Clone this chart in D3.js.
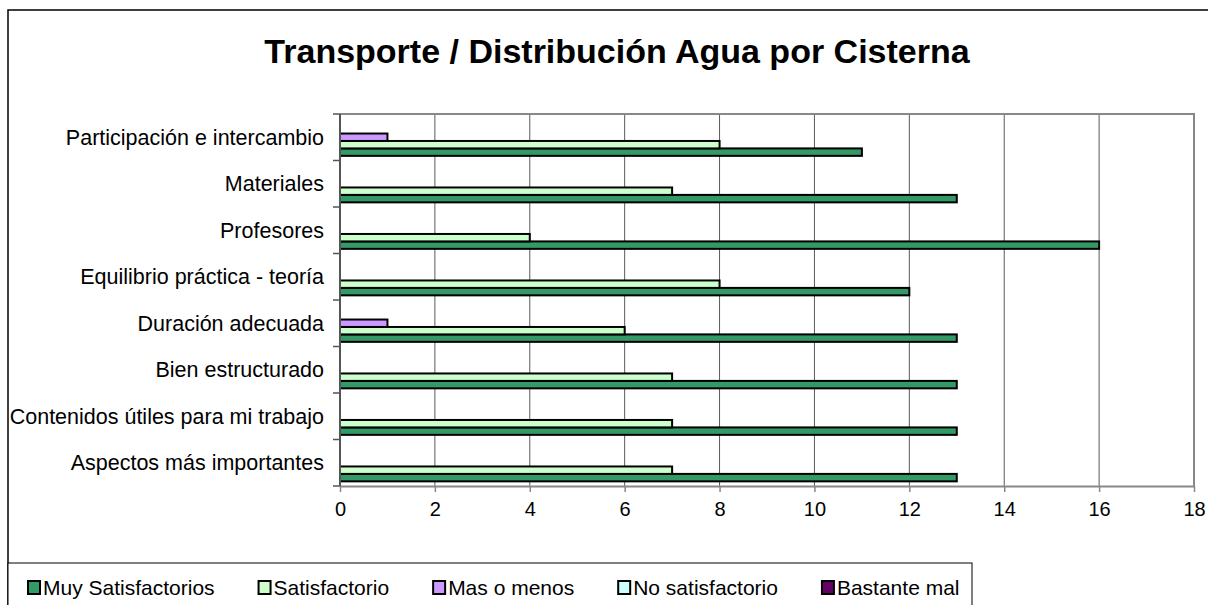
<!DOCTYPE html>
<html>
<head>
<meta charset="utf-8">
<script src="https://cdn.jsdelivr.net/npm/d3@7"></script>
<style>
  body { margin: 0; background: #fff; }
  svg text { font-family: "Liberation Sans", Arial, sans-serif; fill: #000; }
</style>
</head>
<body>
<div id="chart"></div>
<script>
// categories, top to bottom as drawn
var categories = [
    "Participación e intercambio",
    "Materiales",
    "Profesores",
    "Equilibrio práctica - teoría",
    "Duración adecuada",
    "Bien estructurado",
    "Contenidos útiles para mi trabajo",
    "Aspectos más importantes"
];

var seriesNames = ["Muy Satisfactorios", "Satisfactorio", "Mas o menos", "No satisfactorio", "Bastante mal"];
var seriesColors = ["#339966", "#ccffcc", "#cc99ff", "#ccffff", "#660066"];

var muySatisfactorios = [11, 13, 16, 12, 13, 13, 13, 13];
var satisfactorio     = [8, 7, 4, 8, 6, 7, 7, 7];
var masOMenos         = [1, 0, 0, 0, 1, 0, 0, 0];
var noSatisfactorio   = [0, 0, 0, 0, 0, 0, 0, 0];
var bastanteMal       = [0, 0, 0, 0, 0, 0, 0, 0];

var xTicks = [0, 2, 4, 6, 8, 10, 12, 14, 16, 18];

var seriesValues = [muySatisfactorios, satisfactorio, masOMenos, noSatisfactorio, bastanteMal];

var width = 1208, height = 605;
var margin = {top: 114, right: 14, bottom: 119, left: 340};

var svg = d3.select("#chart").append("svg")
    .attr("width", width)
    .attr("height", height);

// outer frame
svg.append("rect")
    .attr("x", 8).attr("y", 10)
    .attr("width", 1220).attr("height", 620)
    .attr("fill", "none").attr("stroke", "#000").attr("stroke-width", 1.5);

svg.append("text")
    .attr("x", 617).attr("y", 63)
    .attr("text-anchor", "middle")
    .style("font-size", "34px").style("font-weight", "bold")
    .text("Transporte / Distribución Agua por Cisterna");

var x = d3.scaleLinear().domain([0, 18]).range([margin.left, width - margin.right]);
var y0 = d3.scaleBand().domain(categories).range([margin.top, height - margin.bottom]);
// series stacked inside each band, first series at the bottom
var y1 = d3.scaleBand().domain(seriesNames.slice().reverse())
    .range([y0.bandwidth() * 0.1, y0.bandwidth() * 0.9]);

// gridlines
svg.append("g").selectAll("line")
    .data(xTicks.slice(1, -1))
    .enter().append("line")
    .attr("x1", function(d) { return x(d); }).attr("x2", function(d) { return x(d); })
    .attr("y1", margin.top).attr("y2", height - margin.bottom)
    .attr("stroke", "#5a5a5a").attr("stroke-width", 1);

// plot border top/right
svg.append("path")
    .attr("d", "M" + x(0) + "," + margin.top + "H" + x(18) + "V" + (height - margin.bottom))
    .attr("fill", "none").attr("stroke", "#888").attr("stroke-width", 2);

// bars
var rows = [];
categories.forEach(function(c, i) {
    seriesNames.forEach(function(s, j) {
        if (seriesValues[j][i] > 0) rows.push({cat: c, series: s, idx: j, value: seriesValues[j][i]});
    });
});

svg.append("g").selectAll("rect")
    .data(rows)
    .enter().append("rect")
    .attr("x", x(0))
    .attr("y", function(d) { return y0(d.cat) + y1(d.series); })
    .attr("width", function(d) { return x(d.value) - x(0); })
    .attr("height", y1.bandwidth())
    .attr("fill", function(d) { return seriesColors[d.idx]; })
    .attr("stroke", "#000").attr("stroke-width", 2);

// x axis
var xAxis = svg.append("g")
    .attr("transform", "translate(0," + (height - margin.bottom) + ")")
    .call(d3.axisBottom(x).tickValues(xTicks).tickSizeInner(6).tickSizeOuter(0).tickPadding(10));
xAxis.select(".domain").attr("stroke", "#888").attr("stroke-width", 2);
xAxis.selectAll(".tick line").attr("stroke", "#888").attr("stroke-width", 1.5);
xAxis.selectAll("text").style("font-size", "20px").attr("font-family", null);

// y axis: ticks at category boundaries
var bounds = categories.map(function(c) { return y0(c); }).concat([height - margin.bottom]);
var yAxis = svg.append("g");
yAxis.append("line")
    .attr("x1", x(0)).attr("x2", x(0))
    .attr("y1", margin.top).attr("y2", height - margin.bottom)
    .attr("stroke", "#555").attr("stroke-width", 2);
yAxis.selectAll(".bt").data(bounds).enter().append("line")
    .attr("x1", x(0) - 7).attr("x2", x(0))
    .attr("y1", function(d) { return d; }).attr("y2", function(d) { return d; })
    .attr("stroke", "#555").attr("stroke-width", 1.5);
yAxis.selectAll("text").data(categories).enter().append("text")
    .attr("x", 324)
    .attr("y", function(d) { return y0(d) + y0.bandwidth() / 2; })
    .attr("text-anchor", "end")
    .attr("dy", "0.35em")
    .style("font-size", "21.5px")
    .text(function(d) { return d; });

// legend
var legend = svg.append("g");
legend.append("rect")
    .attr("x", 8).attr("y", 563)
    .attr("width", 964).attr("height", 80)
    .attr("fill", "#fff").attr("stroke", "#000").attr("stroke-width", 1);

var lx = 28;
seriesNames.forEach(function(s, i) {
    var item = legend.append("g").attr("transform", "translate(" + lx + ",0)");
    item.append("rect")
        .attr("x", 0).attr("y", 581)
        .attr("width", 12).attr("height", 13)
        .attr("fill", seriesColors[i]).attr("stroke", "#000").attr("stroke-width", 2);
    var t = item.append("text")
        .attr("x", 15).attr("y", 595)
        .style("font-size", "21px")
        .text(s);
    lx += 15 + t.node().getComputedTextLength() + 44;
});
</script>
</body>
</html>
